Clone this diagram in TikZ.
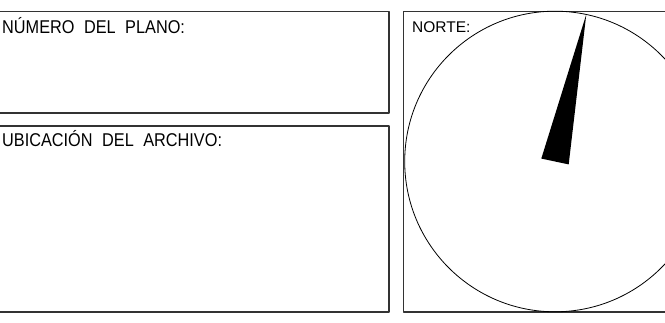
\documentclass[tikz,border=0pt]{standalone}
\usepackage{fontspec}
\setmainfont{Liberation Sans}
\newfontfamily\cadfont[FakeStretch=0.88]{Liberation Sans}
\begin{document}
\begin{tikzpicture}[x=1pt, y=1pt, line join=round, line cap=round,
  frame/.style={line width=1.2pt, draw=black!80},
  label/.style={anchor=base west, inner sep=0pt, font=\cadfont\fontsize{18.5}{21}\selectfont}]
	\useasboundingbox (0,0) rectangle (665,323);
	\clip (0,0) rectangle (665,323);
	\path 
	(-3,210) coordinate (A1)
	(389,311.5) coordinate (B1)
	(-3,11) coordinate (A2)
	(389,197) coordinate (B2)
	(403.5,11) coordinate (A3)
	(670,311.5) coordinate (B3)
	(555,161.5) coordinate (O)
	;
	\path (O) ++(78:150.5) coordinate (T)
	(O) ++(168:14) coordinate (L)
	(O) ++(-12:14) coordinate (R);
	\draw[frame] (A1) rectangle (B1) (A2) rectangle (B2) (A3) rectangle (B3);
	\draw[line width=0.8pt] (O) circle (150.3);
	\fill (T)--(L)--(R)--cycle;
	\node[label] (plano) at (2,289.7) {NÚMERO\hspace{5pt} DEL\hspace{5pt} PLANO:};
	\node[label] (archivo) at (2,176) {UBICACIÓN\hspace{5pt} DEL\hspace{5pt} ARCHIVO:};
	\node[label, font=\fontsize{15.5}{18}\selectfont] (norte) at (412,290.5) {NORTE:};
\end{tikzpicture}
\end{document}
